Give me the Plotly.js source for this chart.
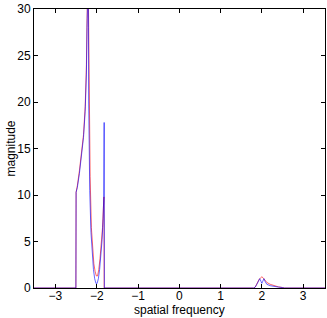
<!DOCTYPE html>
<html>
<head>
<meta charset="utf-8">
<script src="https://cdn.plot.ly/plotly-3.0.1.min.js"></script>
<style>
  html, body { margin: 0; padding: 0; background: #fff; }
  #chart { width: 327px; height: 318px; }
</style>
</head>
<body>
<div id="chart"></div>
<script>
// spectrum estimate 1 (red)
const redX = [-3.52, -2.505, -2.50, -2.47, -2.42, -2.37, -2.32, -2.28, -2.25, -2.235, -2.225, -2.21, -2.195, -2.18, -2.16, -2.13, -2.10, -2.07, -2.04, -2.01, -1.98, -1.95, -1.92, -1.89, -1.86, -1.84, -1.825, -1.82,
  1.80, 1.84, 1.88, 1.93, 1.97, 2.00, 2.03, 2.07, 2.12, 2.20, 2.30, 2.40, 2.50, 2.55, 3.53];
const redY = [0, 0, 10.3, 11.0, 12.6, 14.3, 16.5, 19.5, 24, 29, 34, 34, 28, 20, 12, 6.5, 4, 2.6, 1.8, 1.3, 1.3, 2.0, 3.2, 4.5, 6.5, 8.5, 9.8, 0,
  0, 0.1, 0.5, 0.9, 1.1, 1.2, 1.1, 0.9, 0.6, 0.4, 0.25, 0.12, 0.05, 0, 0];

// spectrum estimate 2 (blue)
const blueX = [-3.52, -2.505, -2.50, -2.47, -2.42, -2.37, -2.32, -2.28, -2.25, -2.235, -2.22, -2.205, -2.195, -2.17, -2.14, -2.11, -2.08, -2.05, -2.02, -1.99, -1.96, -1.93, -1.90, -1.87, -1.845, -1.83, -1.82, -1.815,
  1.80, 1.84, 1.88, 1.92, 1.95, 1.98, 2.00, 2.02, 2.05, 2.08, 2.12, 2.20, 2.30, 2.40, 2.50, 2.55, 3.53];
const blueY = [0, 0, 10.3, 10.8, 12.3, 14.0, 16.2, 19, 23, 28, 34, 34, 20, 10.5, 6, 3.4, 2.0, 1.0, 0.5, 0.5, 1.0, 2.0, 3.5, 5.2, 7.5, 9.8, 17.8, 0,
  0, 0.1, 0.4, 0.8, 1.0, 0.7, 0.5, 0.7, 1.0, 0.7, 0.4, 0.25, 0.15, 0.1, 0.05, 0, 0];

const xTicks = [-3, -2, -1, 0, 1, 2, 3];
const yTicks = [0, 5, 10, 15, 20, 25, 30];

const traces = [
  { x: redX, y: redY, type: 'scatter', mode: 'lines', opacity: 0.6,
    line: { color: 'rgb(255,0,0)', width: 1 }, hoverinfo: 'skip' },
  { x: blueX, y: blueY, type: 'scatter', mode: 'lines', opacity: 0.6,
    line: { color: 'rgb(0,0,255)', width: 1 }, hoverinfo: 'skip' }
];

const fontFam = 'Liberation Sans, Arial, sans-serif';

const axisStyle = {
  showline: true, linecolor: '#000', linewidth: 1, mirror: 'ticks',
  ticks: 'inside', ticklen: 4, tickcolor: '#000', showgrid: false, zeroline: false,
  automargin: false,
  tickfont: { family: fontFam, size: 12, color: '#000' }
};

// axis titles as annotations so they sit exactly where the reference has them
const layout = {
  width: 327, height: 318,
  margin: { l: 34, r: 2, t: 9, b: 30 },
  paper_bgcolor: '#fff', plot_bgcolor: '#fff',
  showlegend: false,
  font: { family: fontFam, size: 12, color: '#000' },
  xaxis: Object.assign({}, axisStyle, { range: [-3.52, 3.53], tickvals: xTicks, ticklabelstandoff: -3 }),
  yaxis: Object.assign({}, axisStyle, { range: [0, 30], tickvals: yTicks }),
  annotations: [
    { text: 'spatial frequency', xref: 'paper', yref: 'paper', x: 0.5, y: 0,
      xanchor: 'center', yanchor: 'middle', yshift: -22, showarrow: false,
      font: { family: fontFam, size: 12, color: '#000' } },
    { text: 'magnitude', xref: 'paper', yref: 'paper', x: 0, y: 0.5,
      xanchor: 'center', yanchor: 'middle', xshift: -24, textangle: -90, showarrow: false,
      font: { family: fontFam, size: 12, color: '#000' } }
  ]
};

Plotly.newPlot('chart', traces, layout, { displayModeBar: false, staticPlot: true });
</script>
</body>
</html>
